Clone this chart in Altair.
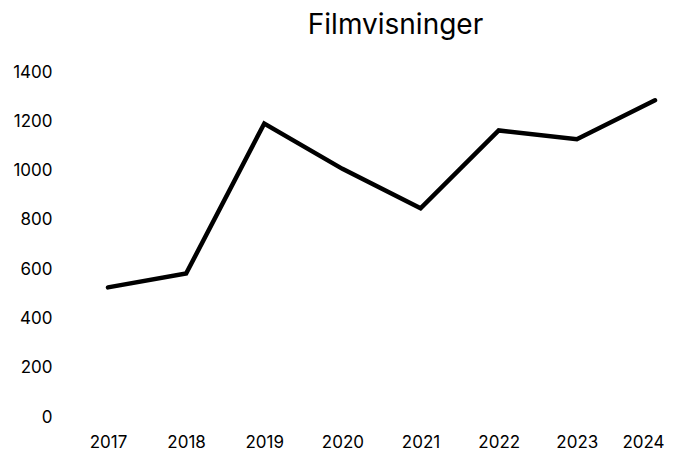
import altair as alt
import pandas as pd

years = [2017, 2018, 2019, 2020, 2021, 2022, 2023, 2024]
values = [526, 582, 1191, 1007, 847, 1163, 1127, 1285]
y_ticks = [0, 200, 400, 600, 800, 1000, 1200, 1400]

df = pd.DataFrame({"year": years, "value": values})

FONT = "Inter"

chart = (
    alt.Chart(df)
    .mark_line(color="black", strokeWidth=4.5, strokeCap="round")
    .encode(
        x=alt.X(
            "year:Q",
            scale=alt.Scale(domain=[2016.386, 2024.128], nice=False, zero=False),
            axis=alt.Axis(
                values=years,
                format="d",
                title=None,
                grid=False,
                domain=False,
                ticks=False,
                tickSize=0,
                labelPadding=30,
                labelBaseline="alphabetic",
                labelFontSize=17,
                labelFont=FONT,
                labelColor="black",
                labelOverlap=False,
                labelOffset=alt.condition("datum.value == 2024", alt.value(-12), alt.value(0)),
            ),
        ),
        y=alt.Y(
            "value:Q",
            scale=alt.Scale(domain=[0, 1400], nice=False),
            axis=alt.Axis(
                values=y_ticks,
                format="d",
                title=None,
                grid=False,
                domain=False,
                ticks=False,
                tickSize=0,
                labelPadding=8,
                labelFontSize=17,
                labelFont=FONT,
                labelColor="black",
                labelOverlap=False,
            ),
        ),
    )
    .properties(
        width=605,
        height=345,
        padding={"left": 52, "top": 64, "right": 0, "bottom": 33},
        autosize=alt.AutoSizeParams(type="none"),
        title=alt.TitleParams(
            "Filmvisninger",
            font=FONT,
            fontSize=28,
            fontWeight="normal",
            color="black",
            anchor="middle",
            dx=33,
            offset=23,
        ),
    )
    .configure_view(stroke=None)
)

chart.save("out.html", embed_options={"renderer": "svg", "actions": False})
